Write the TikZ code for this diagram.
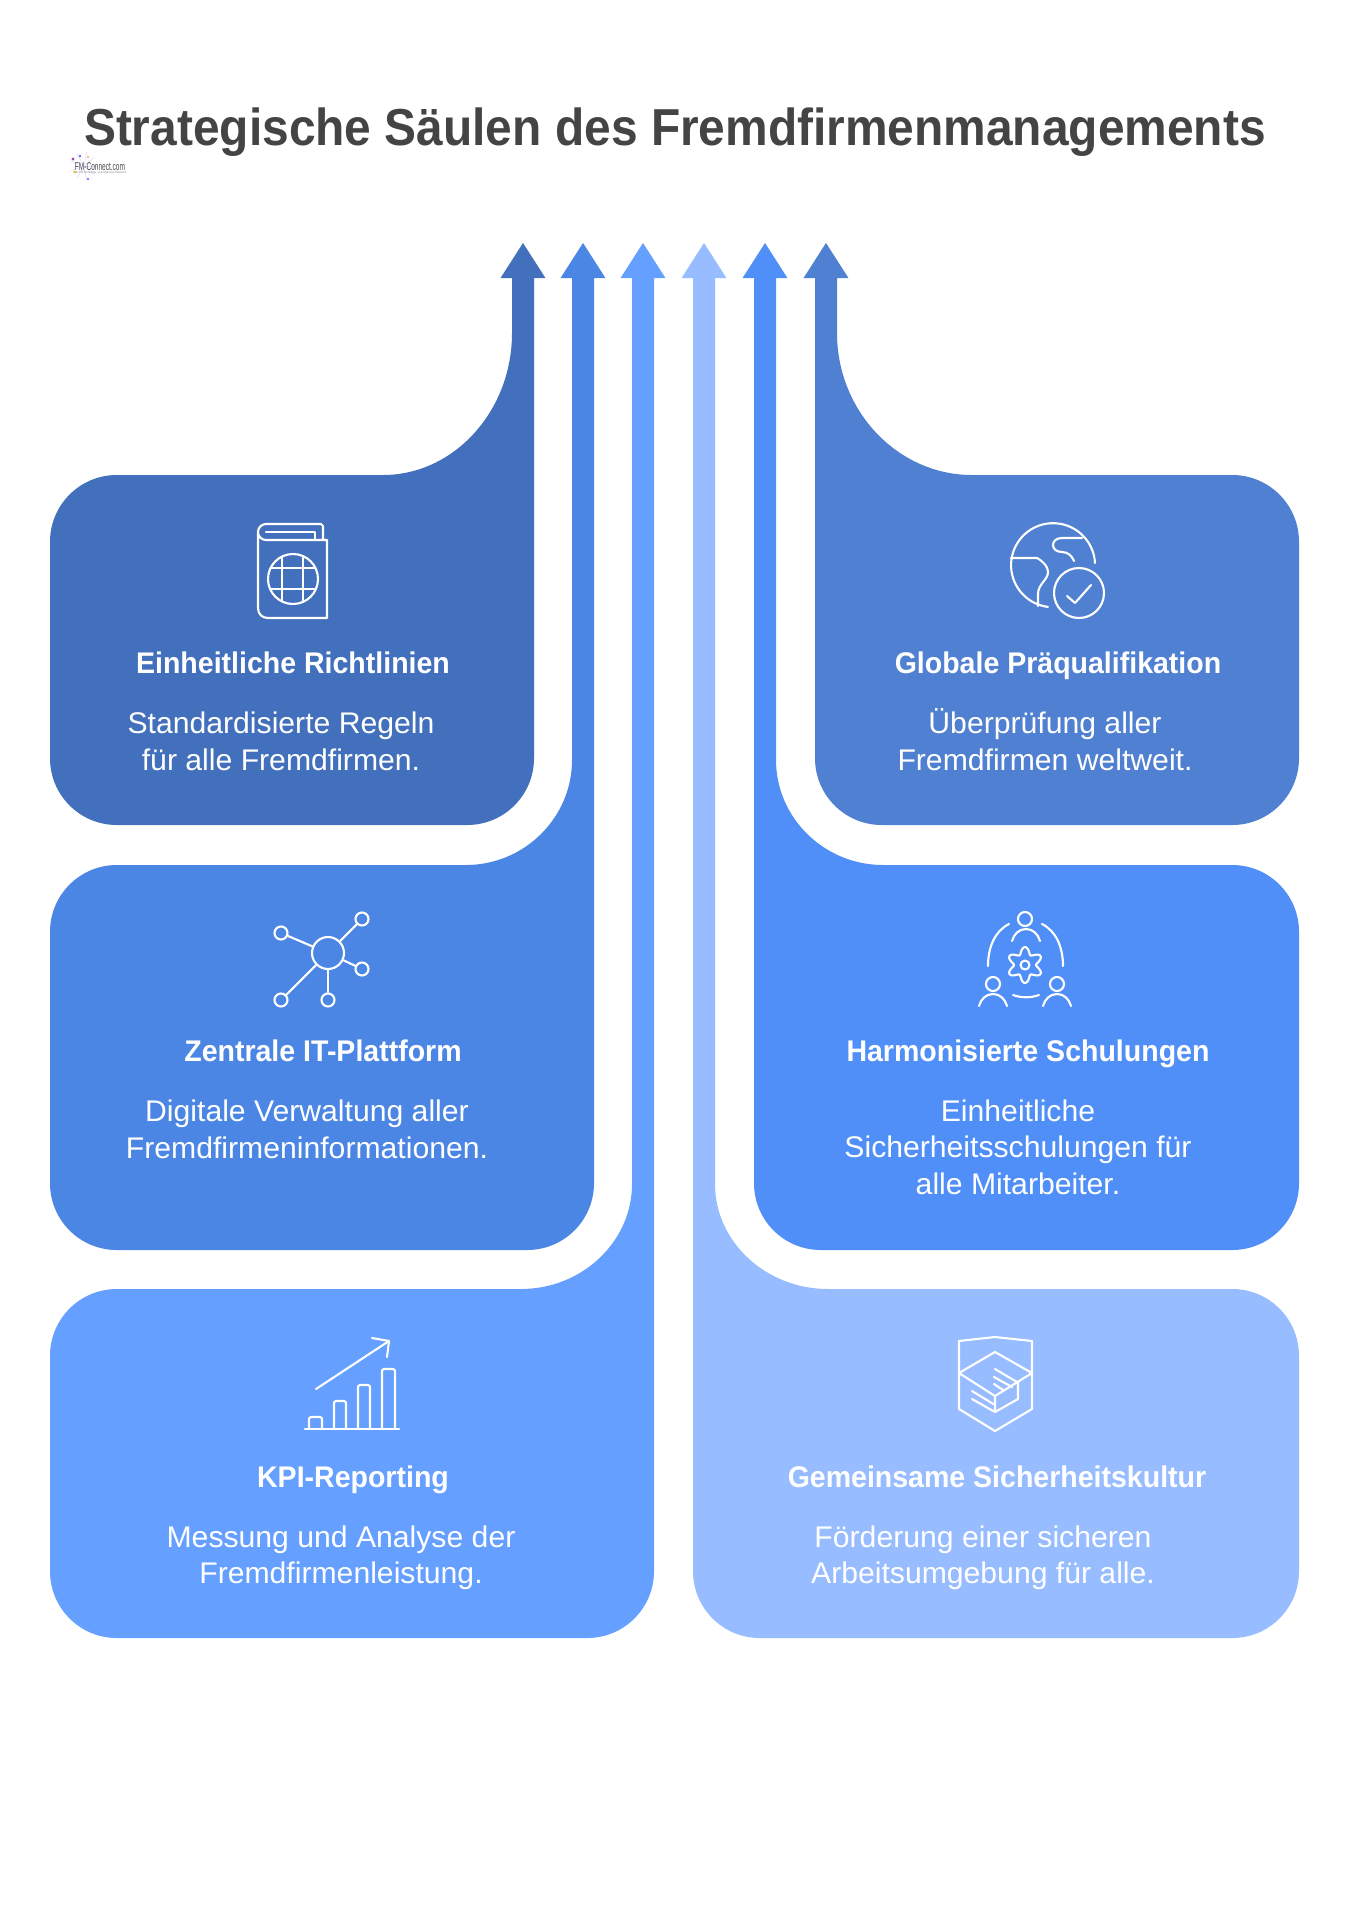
\documentclass[tikz,border=0pt]{standalone}
\usepackage{xcolor}
\usepackage{fontspec}
\setmainfont{Liberation Sans}
\definecolor{pillara}{HTML}{4270BC}
\definecolor{pillarb}{HTML}{4C86E4}
\definecolor{pillarc}{HTML}{659FFF}
\definecolor{pillard}{HTML}{97BCFF}
\definecolor{pillare}{HTML}{508FF7}
\definecolor{pillarf}{HTML}{5080D2}
\definecolor{titlegray}{HTML}{444444}
\tikzset{
	headline/.style={font=\fontsize{29.6}{34}\selectfont\bfseries, text=titlegray, anchor=base, inner sep=0pt, xscale=0.921},
	cardtitle/.style={font=\fontsize{17}{20}\selectfont\bfseries, text=white, anchor=base, inner sep=0pt, xscale=0.955},
	cardtext/.style={font=\fontsize{17}{20.5}\selectfont, text=white, align=center, anchor=base, inner sep=0pt, xscale=1.01},
	iconline/.style={draw=white, line width=1.2pt, line cap=round, line join=round},
	hubdot/.style={circle, iconline, inner sep=0pt, minimum size=18.2pt},
	leafdot/.style={circle, iconline, inner sep=0pt, minimum size=7.4pt},
}

\begin{document}
\begin{tikzpicture}[x=0.02cm, y=-0.02cm]
	% Parameters
	\def\cardr{38pt}
	\def\headbase{278}
	\def\headtip{243}
	
	\useasboundingbox (0,0) rectangle (1349,1920);
	
	%heading
	\node[headline] (heading) at (675,145) {Strategische Säulen des Fremdfirmenmanagements};
	
	%logo
	\foreach \a in {0,40,...,320} {
		\draw[blue!15, line width=0.3pt] (84,166) -- ++(\a:14);
	}
	\fill[violet!70] (73,159) circle (1.6);
	\fill[blue!60] (80,156) circle (1.4);
	\fill[red!30] (88,157) circle (1.4);
	\fill[yellow!70!orange] (75,172) circle (1.4);
	\fill[blue!50] (88,179) circle (1.4);
	\node[inner sep=0pt, text=black!70, font=\fontsize{6.4}{7}\selectfont, xscale=0.58] (logoname) at (100,166.5) {FM-Connect.com};
	\node[inner sep=0pt, text=black!45, font=\fontsize{1.8}{2}\selectfont, xscale=0.85] (logoclaim) at (100,172.5) {Das FM-Beratungs- und Ingenieur-Netzwerk};
	
	%pillars: colour, inner shaft edge, outer shaft edge, far side, card top, card bottom, curve start, curve end
	\foreach \col/\shin/\shout/\far/\top/\bot/\cy/\cx in {
		pillara/512/534/50/475/825/333/383,
		pillarb/572/594/50/865/1250/760/466,
		pillarc/632/654/50/1289/1638/1184/521,
		pillard/715/693/1299/1289/1638/1184/828,
		pillare/776/754/1299/865/1250/760/883,
		pillarf/837/815/1299/475/825/333/972} {
		\fill[\col] (\shin,\headbase) -- (\shin,\cy)
			.. controls (\shin,\cy+0.55*\top-0.55*\cy) and (\cx+0.55*\shin-0.55*\cx,\top) .. (\cx,\top)
			[rounded corners=\cardr] -- (\far,\top) -- (\far,\bot) -- (\shout,\bot) [sharp corners]
			-- (\shout,\headbase) -- (\shout+0.52*\shout-0.52*\shin,\headbase)
			-- (0.5*\shin+0.5*\shout,\headtip)
			-- (\shin+0.52*\shin-0.52*\shout,\headbase) -- cycle;
	}
	
	%card texts
	\node[cardtitle] (titlea) at (293,673) {Einheitliche Richtlinien};
	\node[cardtext] (texta) at (281,770) {Standardisierte Regeln\\für alle Fremdfirmen.};
	\node[cardtitle] (titleb) at (323,1061) {Zentrale IT-Plattform};
	\node[cardtext] (textb) at (307,1158) {Digitale Verwaltung aller\\Fremdfirmeninformationen.};
	\node[cardtitle] (titlec) at (353,1487) {KPI-Reporting};
	\node[cardtext] (textc) at (341,1583) {Messung und Analyse der\\Fremdfirmenleistung.};
	\node[cardtitle] (titled) at (997,1487) {Gemeinsame Sicherheitskultur};
	\node[cardtext] (textd) at (983,1583) {Förderung einer sicheren\\Arbeitsumgebung für alle.};
	\node[cardtitle] (titlee) at (1028,1061) {Harmonisierte Schulungen};
	\node[cardtext] (texte) at (1018,1194) {Einheitliche\\Sicherheitsschulungen für\\alle Mitarbeiter.};
	\node[cardtitle] (titlef) at (1058,673) {Globale Präqualifikation};
	\node[cardtext] (textf) at (1045,770) {Überprüfung aller\\Fremdfirmen weltweit.};
	
	%passport icon
	\draw[iconline] (323,540) -- (323,526) -- (321,524) -- (266,524) arc[start angle=-90, end angle=-270, radius=8]
		-- (327,540) -- (327,618) -- (268,618) .. controls (262,618) and (258,614) .. (258,608)
		-- (258,532);
	\draw[iconline] (266,532) -- (315,532) -- (315,540);
	\draw[iconline] (293,579) circle (25);
	\draw[iconline] (282,556.6) -- (282,601.4) (303,556.1) -- (303,601.9);
	\draw[iconline] (270.6,568) -- (315.4,568) (270.1,589) -- (315.9,589);
	
	%globe icon
	\draw[iconline] (1095,563) arc[start angle=-3, end angle=-263, radius=42];
	\draw[iconline] (1011,558) -- (1037,558) .. controls (1044,562) and (1048,567) .. (1048,572)
		.. controls (1048,580) and (1038,584) .. (1038,594) -- (1038,606);
	\draw[iconline] (1082,538) -- (1062,538) .. controls (1050,538) and (1050,552) .. (1062,552)
		.. controls (1068,552) and (1072,556) .. (1074,561);
	\draw[iconline] (1079,593) circle (25);
	\draw[iconline] (1067,596) -- (1075,603) -- (1091,585);
	
	%network icon
	\node[hubdot] (hub) at (328,953) {};
	\node[leafdot] (leafa) at (281,933) {};
	\node[leafdot] (leafb) at (362,919) {};
	\node[leafdot] (leafc) at (362,969) {};
	\node[leafdot] (leafd) at (281,1000) {};
	\node[leafdot] (leafe) at (328,1000) {};
	\foreach \leaf in {leafa,leafb,leafc,leafd,leafe} {
		\draw[iconline] (hub) -- (\leaf);
	}
	
	%people icon
	\draw[iconline] (1025,919) circle (7);
	\draw[iconline] (993,984) circle (7);
	\draw[iconline] (1057,984) circle (7);
	\foreach \x/\y in {1026/941,993/1006,1057/1006} {
		\draw[iconline] (\x-14,\y) .. controls (\x-12,\y-7) and (\x-7,\y-12) .. (\x,\y-12)
			.. controls (\x+7,\y-12) and (\x+12,\y-7) .. (\x+14,\y);
	}
	\draw[iconline] (1009,924) .. controls (995,931) and (988,947) .. (988,966);
	\draw[iconline] (1042,924) .. controls (1056,931) and (1063,947) .. (1063,966);
	\draw[iconline] (1013,995) .. controls (1021,998) and (1031,998) .. (1039,995);
	\draw[iconline] (1025,965) circle (4.5);
	\draw[iconline] plot[domain=0:360, samples=73, smooth] ({1025+(14.5-3.5*cos(6*\x))*cos(\x)}, {965+(14.5-3.5*cos(6*\x))*sin(\x)}) -- cycle;
	
	%chart icon
	\draw[iconline] (305,1429) -- (399,1429);
	\foreach \xa/\xb/\ytop in {309/322/1417,334/346/1401,358/370/1385,382/395/1369} {
		\draw[iconline, rounded corners=1.2pt] (\xa,1429) -- (\xa,\ytop) -- (\xb,\ytop) -- (\xb,1429);
	}
	\draw[iconline] (316,1389) -- (389,1341);
	\draw[iconline] (372,1338) -- (389,1341) -- (387,1357);
	
	%shield icon
	\draw[iconline] (959,1341) -- (995,1337) -- (1032,1341) -- (1032,1409) -- (995,1431) -- (959,1409) -- cycle;
	\draw[iconline] (959,1373) -- (995,1352) -- (1032,1373) -- (995,1396) -- cycle;
	\draw[iconline] (995,1396) -- (995,1412) -- (1018,1399) -- (1018,1382);
	\foreach \xa/\ya/\xb/\yb in {995/1369/1017/1382,994/1377/1012/1387,994/1384/1003/1390,972/1391/995/1405,972/1399/995/1412} {
		\draw[iconline] (\xa,\ya) -- (\xb,\yb);
	}
\end{tikzpicture}
\end{document}
